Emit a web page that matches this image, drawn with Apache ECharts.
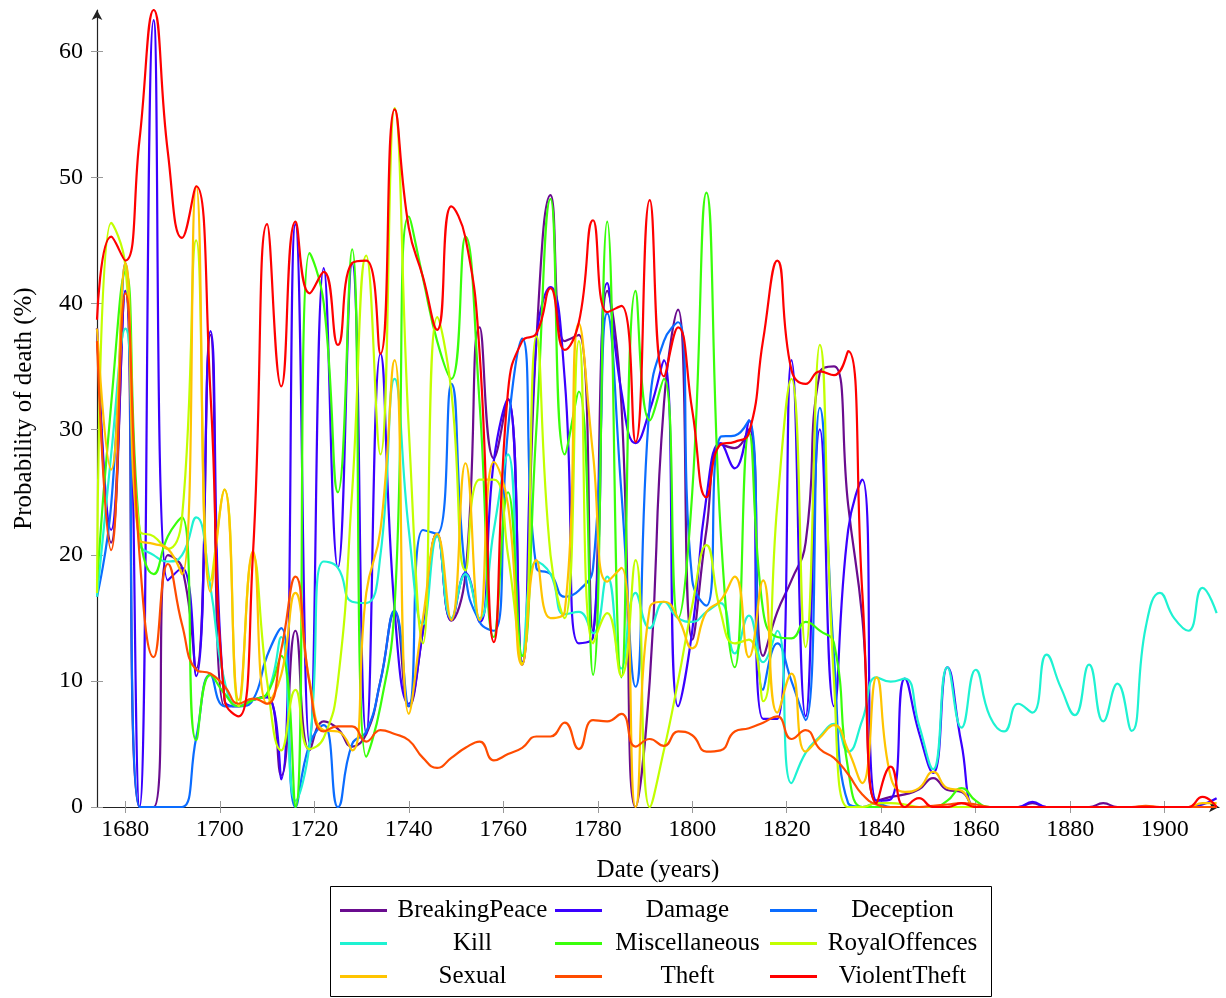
<!DOCTYPE html>
<html><head><meta charset="utf-8">
<script src="https://cdn.jsdelivr.net/npm/echarts@6/dist/echarts.min.js"></script>
<style>html,body{margin:0;padding:0;background:#fff}#c{width:1226px;height:998px}</style>
</head><body><div id="c"></div>
<script>
const years = [1674,1677,1680,1683,1686,1689,1692,1695,1698,1701,1704,1707,1710,1713,1716,1719,1722,1725,1728,1731,1734,1737,1740,1743,1746,1749,1752,1755,1758,1761,1764,1767,1770,1773,1776,1779,1782,1785,1788,1791,1794,1797,1800,1803,1806,1809,1812,1815,1818,1821,1824,1827,1830,1833,1836,1839,1842,1845,1848,1851,1854,1857,1860,1863,1866,1869,1872,1875,1878,1881,1884,1887,1890,1893,1896,1899,1902,1905,1908,1911];

const breakingPeace = [38,21,41,0,0,20,19,11,37.5,8, 8,8.5,8.8,2.5,14,4.5,6.8,6.2,4.8,5.8, 10,15.5,8,14,21.7,14.8,18.5,38.1,27.7,32.4, 11.3,37,48.6,37,37.5,14,41,32,0,10, 32,39.5,13.3,22,28.8,28.5,30,12,15.5,18, 21,34.5,35,24,15,0.5,0.8,1.0,1.4,2.3, 1.35,1.2,0,0,0,0,0.3,0,0,0, 0,0.3,0,0,0,0,0,0,0,0];
const damage = [38,22,41,0,62.5,18,19,10.4,37.8,8.5, 8,8.5,8.7,2.2,46.3,5,42.8,19,43.2,5.8, 36,15.6,8.2,14,21.7,14.85,18.6,14.7,27.5,32.4, 11.5,37,41.3,34,13,13.5,41.6,33,28.9,31.5, 35.5,8,14,24.6,28.9,26.9,30.7,7,7,35.5, 7.2,30,8,22,26,0.5,0.6,10.2,5.9,2.7, 11.1,5,0,0,0,0,0.4,0,0,0, 0,0,0,0,0,0,0,0,0.2,0.7];
const deception = [16.7,24,43.2,0,0,0,0,5.5,10.5,8, 8,8.5,12,14.2,0,5,6.5,0,5,6, 10,15.6,8,22,21.7,33.6,18.5,14.7,14,30, 37.2,19,18.5,16.7,17.2,19,39.2,25,9.55,32, 37,38.5,18,16,29.4,29.5,30.7,9.3,13,10, 6.9,31.7,12,0.3,0,0.3,0,0,0,0, 0,0,0,0,0,0,0,0,0,0, 0,0,0,0,0,0,0,0,0,0];
const kill = [16.7,28,38,21,20,19.5,20,23,17.5,10, 8,8.5,9,13.5,0.5,5,19.5,19,16.3,16.2, 20,34,22,14.5,21.5,15,18.5,15,22,28, 12,19.5,18.5,15.3,15.5,13.8,18.3,11,17,14.2, 16.3,15,14.7,15.5,16.2,12.2,15.2,11.5,14,1.9, 4.3,5.6,6.6,4.4,6.9,10.3,9.95,10.2,6.5,3.0, 11.1,6.3,10.9,7.2,6.0,8.2,7.5,12.1,9.5,7.3, 11.3,6.8,9.8,6.05,14.3,17.0,15.0,14.0,17.4,15.4];
const miscellaneous = [18,32,42.5,22,18.5,21.5,23,5.3,10.5,9, 8,8.5,9,12,0,44,40,25,44.3,4, 8,16,46.9,42,37,34,45.3,32,13.5,25, 12,30,48.3,28,33,10.5,46.5,10.3,41,30.7, 34,15,25,48.8,22,11.1,29.7,15.6,13.5,13.4, 14.7,14,13,3,0,0,0,0,0,0, 0.5,1.5,0.5,0,0,0,0,0,0,0, 0,0,0,0,0,0,0,0,0,0];
const royalOffences = [17,46.4,43,22,21.5,20.5,23,45,18,25.2, 8,20,10,4.5,9.3,4.6,5.5,10,25,43.8, 28,55.5,30,13,38.9,33,18.8,26,26,20, 11.4,37.4,20,15,37,13,15.4,10.4,19.6,0, 4.5,10,16,20.8,15.5,13,13.3,8.4,24,34, 12.7,36.7,10,0,0,0.3,0.3,0.2,0,0, 0,0,0,0,0,0,0,0,0,0, 0,0,0,0,0,0,0,0,0,0];
const sexual = [38,26.8,43.2,21.2,20.9,20.5,18.5,49.3,17.1,25.2, 8.5,20.3,8.2,10.5,17.0,10,6.1,6.0,4.5,17, 22,35.5,7.4,15,21.7,14.85,27.3,14.85,27.4,24, 11.3,19.6,15,15.5,38.4,28,17.9,19.0,0,15.8, 16.3,15,12.6,15.5,16.4,18.3,11.9,18.0,7.5,10.6, 4.4,5.5,6.5,4.5,1.9,10.3,2.4,1.2,1.5,2.8, 1.5,1.3,0,0,0,0,0,0,0,0, 0,0,0,0,0,0,0,0,0.3,0.3];
const theft = [37,20.4,40.8,20,11.9,19.3,14.5,10.9,10.6,9.6, 8.2,8.6,8.2,12.5,18.3,9.8,6.0,6.4,6.4,5.2, 6.1,5.8,5.3,3.9,3.1,3.9,4.7,5.2,3.7,4.2, 4.7,5.6,5.6,6.7,4.6,6.9,6.8,7.4,4.8,5.4, 4.85,6.0,5.7,4.4,4.5,6.0,6.25,6.7,7.2,5.4, 6.1,4.6,3.9,2.6,1.0,0.2,0,0,0,0.1, 0.2,0.3,0.2,0,0,0,0,0,0,0, 0,0,0,0,0.1,0,0,0,0,0];
const violentTheft = [38.7,45.3,43.4,53,63.3,52,45.2,49.3,33,8.5, 7.2,20,46.3,33.4,46.5,40.8,42.5,36.7,43.2,43.4, 36.0,55.4,46,42.1,37.9,47.7,45.2,36,13.1,33, 37,37.6,41.2,36.3,38.5,46.6,39.3,39.8,29,48.2, 34.2,38.1,31.5,24.6,28.8,29,29.7,37.1,43.4,34.7, 33.6,34.6,34.3,36.2,17,0.3,3.2,0,0.7,0, 0,0.3,0,0,0,0,0,0,0,0, 0,0,0,0,0,0,0,0,0.8,0];

const seriesNames = ['BreakingPeace','Damage','Deception','Kill','Miscellaneous','RoyalOffences','Sexual','Theft','ViolentTheft'];
const seriesValues = [breakingPeace, damage, deception, kill, miscellaneous, royalOffences, sexual, theft, violentTheft];
const seriesColors = ['#6a0c8f','#3a00ff','#0a6cff','#1ef2d2','#39ff0a','#c2ff00','#ffc400','#ff4c00','#ff0000'];
const xTickValues = [1680,1700,1720,1740,1760,1780,1800,1820,1840,1860,1880,1900];
const yTickValues = [0,10,20,30,40,50,60];

const FONT = 'Liberation Serif';
const chart = echarts.init(document.getElementById('c'), null, {renderer: 'canvas'});

const series = seriesNames.map((name, i) => ({
  name: name,
  type: 'line',
  xAxisIndex: 0,
  yAxisIndex: 0,
  smooth: 0.5,
  showSymbol: false,
  symbol: 'none',
  data: years.map((y, j) => [y, seriesValues[i][j]]),
  lineStyle: {color: seriesColors[i], width: 2.2},
  itemStyle: {color: seriesColors[i]},
  emphasis: {disabled: true},
  z: 2 + i
}));

function legendRow(names, top) {
  return {
    data: names,
    top: top,
    left: 340,
    orient: 'horizontal',
    padding: 0,
    itemGap: 2,
    itemWidth: 47,
    itemHeight: 3,
    icon: 'rect',
    selectedMode: false,
    formatter: '{t|{name}}',
    textStyle: {
      rich: {t: {width: 161, align: 'center', fontFamily: FONT, fontSize: 25, color: '#000', lineHeight: 26}}
    }
  };
}

const plainNumber = v => String(v);

const axisCommonX = {
  type: 'value', min: 1674, max: 1911.5,
  splitLine: {show: false}
};
const axisCommonY = {
  type: 'value', min: 0, max: 63.3,
  splitLine: {show: false}
};

const option = {
  animation: false,
  backgroundColor: '#fff',
  grid: {left: 97, right: 7, top: 10, bottom: 191, containLabel: false},
  xAxis: [
    Object.assign({}, axisCommonX, {
      position: 'bottom',
      name: 'Date (years)',
      nameLocation: 'middle',
      nameGap: 51,
      nameTextStyle: {fontFamily: FONT, fontSize: 25, color: '#000'},
      axisLine: {show: true, lineStyle: {color: '#222', width: 1.2}, symbol: ['none', 'arrow'], symbolSize: [8, 10]},
      axisTick: {show: true, inside: false, length: 6, lineStyle: {color: '#999', width: 1}, customValues: xTickValues},
      axisLabel: {show: true, margin: 11, fontFamily: FONT, fontSize: 24, color: '#000', customValues: xTickValues, formatter: plainNumber}
    }),
    Object.assign({}, axisCommonX, {
      position: 'bottom',
      axisLine: {show: false},
      axisTick: {show: true, inside: true, length: 6, lineStyle: {color: '#999', width: 1}, customValues: xTickValues},
      axisLabel: {show: false}
    })
  ],
  yAxis: [
    Object.assign({}, axisCommonY, {
      position: 'left',
      name: 'Probability of death (%)',
      nameLocation: 'middle',
      nameGap: 60,
      nameRotate: 90,
      nameTextStyle: {fontFamily: FONT, fontSize: 25, color: '#000'},
      axisLine: {show: true, lineStyle: {color: '#222', width: 1.2}, symbol: ['none', 'arrow'], symbolSize: [8, 10]},
      axisTick: {show: true, inside: false, length: 6, lineStyle: {color: '#999', width: 1}, customValues: yTickValues},
      axisLabel: {show: true, margin: 14, fontFamily: FONT, fontSize: 24, color: '#000', customValues: yTickValues, formatter: plainNumber}
    }),
    Object.assign({}, axisCommonY, {
      position: 'left',
      axisLine: {show: false},
      axisTick: {show: true, inside: true, length: 6, lineStyle: {color: '#999', width: 1}, customValues: yTickValues},
      axisLabel: {show: false}
    })
  ],
  legend: [
    legendRow(seriesNames.slice(0, 3), 898),
    legendRow(seriesNames.slice(3, 6), 931),
    legendRow(seriesNames.slice(6, 9), 964)
  ],
  graphic: [{
    type: 'rect',
    shape: {x: 330.5, y: 886.5, width: 661, height: 110},
    style: {fill: 'none', stroke: '#000', lineWidth: 1},
    silent: true
  }],
  series: series
};
chart.setOption(option);
</script>
</body></html>
